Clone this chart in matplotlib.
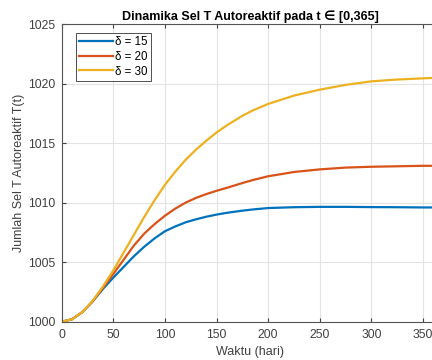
import matplotlib
matplotlib.use("Agg")
import matplotlib.pyplot as plt

plt.rcParams['font.family'] = ['Liberation Sans', 'DejaVu Sans']

# time (days) and T(t) for each delta
t = [0, 10, 20, 30, 40, 50, 60, 70, 80, 90, 100, 110, 120, 130, 140, 150,
     160, 175, 185, 200, 225, 250, 275, 300, 325, 350, 365]
T_d15 = [1000, 1000.2, 1000.8, 1001.7, 1002.75, 1003.7, 1004.6, 1005.5, 1006.3,
         1007.0, 1007.6, 1008.0, 1008.35, 1008.6, 1008.82, 1009.0, 1009.15,
         1009.33, 1009.43, 1009.55, 1009.62, 1009.65, 1009.65, 1009.63,
         1009.62, 1009.6, 1009.6]
T_d20 = [1000, 1000.2, 1000.8, 1001.7, 1002.85, 1004.0, 1005.2, 1006.4, 1007.4,
         1008.2, 1008.9, 1009.5, 1010.0, 1010.4, 1010.72, 1011.0, 1011.25,
         1011.65, 1011.9, 1012.22, 1012.58, 1012.8, 1012.95, 1013.02, 1013.06,
         1013.1, 1013.1]
T_d30 = [1000, 1000.2, 1000.8, 1001.75, 1002.95, 1004.3, 1005.8, 1007.3, 1008.8,
         1010.2, 1011.5, 1012.6, 1013.6, 1014.45, 1015.2, 1015.9, 1016.5,
         1017.3, 1017.75, 1018.3, 1019.0, 1019.5, 1019.9, 1020.2, 1020.35,
         1020.45, 1020.5]
labels = ['δ = 15', 'δ = 20', 'δ = 30']
colors = ['#0072BD', '#D95319', '#EDB120']

fig = plt.figure(figsize=(4.32, 3.6), dpi=100)
ax = fig.add_axes([0.1426, 0.1064, 0.8727, 0.8264])

for y, lab, c in zip([T_d15, T_d20, T_d30], labels, colors):
    ax.plot(t, y, color=c, linewidth=1.6, label=lab)

ax.set_xlim(0, 365)
ax.set_ylim(1000, 1025)
ax.set_xticks(range(0, 351, 50))
ax.set_yticks(range(1000, 1026, 5))
ax.grid(True, color='#e3e3e3', linewidth=0.8)
ax.set_axisbelow(True)
ax.tick_params(direction='in', length=3, labelsize=8.7, colors='#404040',
               top=True, right=True)
ax.tick_params(axis='x', pad=5.5)
ax.tick_params(axis='y', pad=4.5)
for s in ax.spines.values():
    s.set_color('#555555')
    s.set_linewidth(0.8)

ax.set_title('Dinamika Sel T Autoreaktif pada t ∈ [0,365]', fontsize=9,
             fontweight='bold', pad=3,
             family=['Liberation Sans', 'DejaVu Sans'])
ax.set_xlabel('Waktu (hari)', fontsize=9, color='#404040', labelpad=3)
ax.set_ylabel('Jumlah Sel T Autoreaktif T(t)', fontsize=9, color='#404040',
              labelpad=2)

leg = ax.legend(loc='upper left', bbox_to_anchor=(76 / 432, 1 - 33 / 360),
                bbox_transform=fig.transFigure, fontsize=8.3, frameon=True,
                fancybox=False, edgecolor='#333333', framealpha=1,
                handlelength=2.9, handletextpad=0.2, borderpad=0.3,
                labelspacing=0.22, borderaxespad=0)
leg.get_frame().set_linewidth(0.6)

fig.savefig('out.png', dpi=100)
